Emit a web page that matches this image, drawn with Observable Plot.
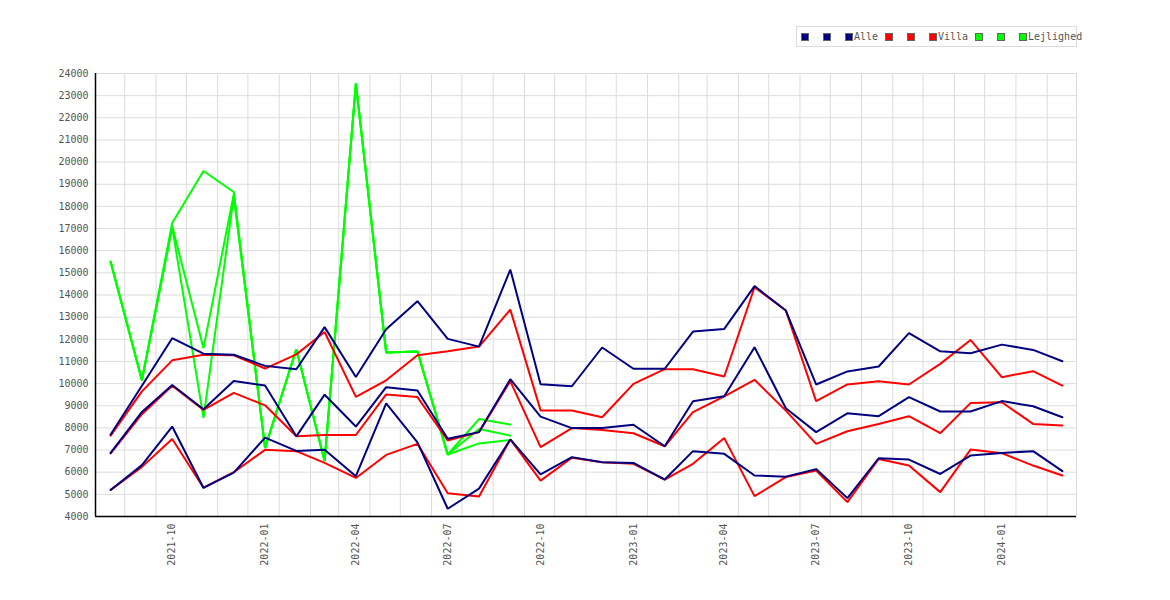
<!DOCTYPE html>
<html>
<head>
<meta charset="utf-8">
<script src="https://cdn.jsdelivr.net/npm/d3@7"></script>
<script src="https://cdn.jsdelivr.net/npm/@observablehq/plot@0.6"></script>
<style>
  html, body { margin: 0; padding: 0; background: #fff; }
  #wrap { position: relative; width: 1170px; height: 600px; }
  #legend {
    position: absolute; left: 796px; top: 26px; width: 279px; height: 19px;
    border: 1px solid #dcdcdc; background: #fff;
    font-family: "DejaVu Sans Mono", monospace; font-size: 10px; color: #555;
  }
  #legend .sw { position: absolute; top: 6px; width: 6px; height: 6px; border: 1px solid #666; }
  #legend .lb { position: absolute; top: 3px; line-height: 13px; }
</style>
</head>
<body>
<div id="wrap">
  <div id="chart"></div>
  <div id="legend"></div>
</div>
<script>
const months = ["2021-08","2021-09","2021-10","2021-11","2021-12","2022-01","2022-02","2022-03","2022-04","2022-05","2022-06","2022-07","2022-08","2022-09","2022-10","2022-11","2022-12","2023-01","2023-02","2023-03","2023-04","2023-05","2023-06","2023-07","2023-08","2023-09","2023-10","2023-11","2023-12","2024-01","2024-02","2024-03"];

const alleHigh = [7700,9900,12050,11350,11300,10800,10650,12550,10300,12450,13720,12020,11670,15150,9970,9880,11630,10670,10670,12350,12470,14400,13300,9960,10550,10770,12280,11460,11370,11760,11520,11010];
const alleMid  = [6870,8720,9940,8840,10120,9910,7620,9500,8060,9840,9690,7510,7810,10200,8510,7990,8000,8140,7170,9200,9430,11640,8890,7810,8660,8530,9390,8740,8740,9210,8980,8480];
const alleLow  = [5200,6320,8060,5290,5980,7560,6960,7010,5820,9110,7350,4350,5260,7480,5900,6680,6450,6420,5670,6950,6830,5850,5800,6140,4830,6630,6570,5920,6750,6870,6950,6050];

const villaHigh = [7650,9650,11050,11300,11280,10680,11320,12330,9400,10150,11280,11460,11670,13340,8790,8790,8480,9990,10650,10650,10320,14350,13300,9210,9960,10110,9960,10890,11970,10290,10560,9910];
const villaMid  = [6850,8620,9900,8810,9580,9020,7620,7680,7680,9510,9390,7430,7810,10110,7130,7990,7910,7760,7170,8710,9420,10170,8780,7280,7850,8180,8530,7760,9120,9160,8180,8110];
const villaLow  = [5200,6240,7500,5300,6000,7010,6950,6420,5740,6780,7280,5050,4900,7480,5620,6650,6450,6380,5670,6380,7540,4920,5780,6080,4650,6600,6300,5100,7020,6860,6300,5850];

const lejlHigh = [15500,10150,17250,19600,18650,7100,11550,6500,23550,11400,11450,6800,8400,8150];
const lejlMid  = [15500,10150,17100,11600,18550,7100,11550,6500,23550,11400,11450,6800,7950,7650];
const lejlLow  = [15500,10150,17050,8450,18450,7100,11550,6500,23550,11400,11450,6800,7300,7450];

const seriesNames = ["Alle", "Villa", "Lejlighed"];
const seriesColors = ["#000080", "#ff0000", "#00ff00"];

const yTicks = d3.range(4000, 24001, 1000);
const xTickLabels = ["2021-10","2022-01","2022-04","2022-07","2022-10","2023-01","2023-04","2023-07","2023-10","2024-01"];

const toDate = m => new Date(m + "-01T00:00:00Z");
const rows = (vals, key) => vals.map((v, i) => ({date: toDate(months[i]), value: v, key}));

const groups = [
  {color: seriesColors[2], lines: [rows(lejlHigh,"l1"), rows(lejlMid,"l2"), rows(lejlLow,"l3")]},
  {color: seriesColors[1], lines: [rows(villaHigh,"v1"), rows(villaMid,"v2"), rows(villaLow,"v3")]},
  {color: seriesColors[0], lines: [rows(alleHigh,"a1"), rows(alleMid,"a2"), rows(alleLow,"a3")]}
];

const x0 = new Date("2021-07-17T00:00:00Z");
const x1 = new Date("2024-03-15T00:00:00Z");
const gridDates = d3.utcMonths(new Date("2021-08-01T00:00:00Z"), new Date("2024-03-02T00:00:00Z"))
  .map(d => new Date(Date.UTC(d.getUTCFullYear(), d.getUTCMonth(), 15)));

const lineMarks = [];
for (const g of groups) {
  for (const l of g.lines) {
    lineMarks.push(Plot.line(l, {x: "date", y: "value", stroke: g.color, strokeWidth: 2, strokeLinejoin: "miter"}));
  }
}

const chart = Plot.plot({
  width: 1170,
  height: 600,
  marginLeft: 95,
  marginRight: 94,
  marginTop: 73,
  marginBottom: 84,
  style: {fontFamily: "'DejaVu Sans Mono', monospace", fontSize: "10px", color: "#555", background: "#fff"},
  x: {
    type: "utc",
    domain: [x0, x1],
    ticks: xTickLabels.map(toDate),
    tickFormat: d3.utcFormat("%Y-%m"),
    tickRotate: -90,
    tickSize: 0,
    tickPadding: 7,
    label: null
  },
  y: {
    domain: [4000, 24000],
    ticks: yTicks,
    tickFormat: d => String(d),
    tickSize: 0,
    tickPadding: 7,
    label: null
  },
  marks: [
    Plot.ruleY(yTicks, {stroke: "#dcdcdc", strokeWidth: 1}),
    Plot.ruleX(gridDates, {stroke: "#dcdcdc", strokeWidth: 1}),
    ...lineMarks,
    Plot.ruleX([x0], {stroke: "#000", strokeWidth: 1.5}),
    Plot.ruleY([4000], {stroke: "#000", strokeWidth: 1.5})
  ]
});
document.getElementById("chart").appendChild(chart);

// legend
const legend = document.getElementById("legend");
const swX = [[4, 26, 48], [88, 110, 132], [178, 200, 222]];
const lbX = [57, 141, 231];
seriesNames.forEach((name, i) => {
  swX[i].forEach(px => {
    const s = document.createElement("div");
    s.className = "sw";
    s.style.left = px + "px";
    s.style.background = seriesColors[i];
    legend.appendChild(s);
  });
  const t = document.createElement("div");
  t.className = "lb";
  t.style.left = lbX[i] + "px";
  t.textContent = name;
  legend.appendChild(t);
});
</script>
</body>
</html>
